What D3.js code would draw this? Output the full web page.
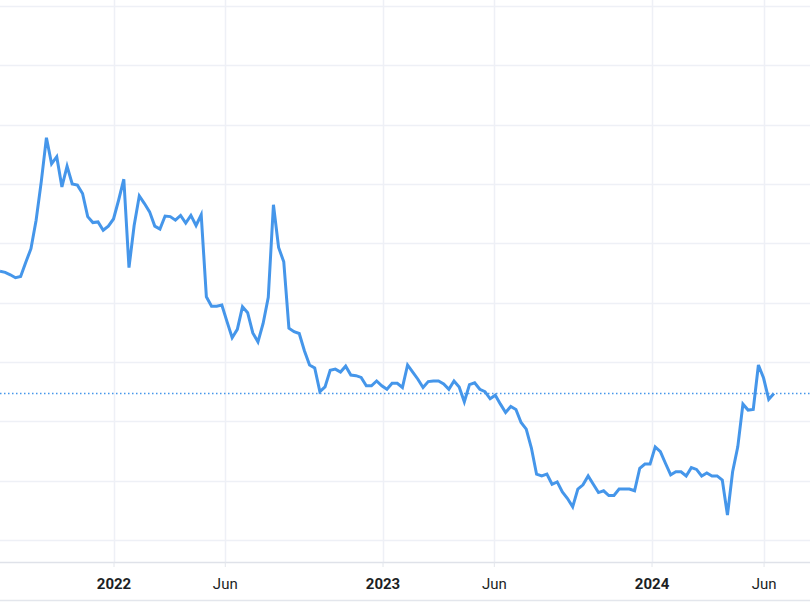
<!DOCTYPE html>
<html>
<head>
<meta charset="utf-8">
<script src="https://cdn.jsdelivr.net/npm/d3@7"></script>
<style>
  html, body { margin: 0; padding: 0; background: #fff; }
  svg { display: block; }
</style>
</head>
<body>
<div id="chart"></div>
<script>
// Weekly series, first point on 31 Jul 2021.
const firstWeek = new Date(2021, 6, 31);
const values = [
  65.3, 65.1, 64.7, 64.2, 64.4, 66.8, 69.1, 73.9, 80.4, 87.8,
  83.4, 84.6, 79.5, 83.0, 80.0, 79.8, 78.4, 74.5, 73.5, 73.6,
  72.2, 72.9, 74.1, 77.3, 80.8, 65.9, 73.0, 78.0, 76.7, 75.3,
  72.9, 72.4, 74.6, 74.5, 73.9, 74.7, 73.4, 74.7, 73.0, 74.8,
  61.0, 59.4, 59.4, 59.6, 56.8, 54.1, 55.5, 59.3, 58.3, 54.9,
  53.4, 56.5, 60.9, 76.5, 69.3, 66.9, 55.7, 55.1, 54.8, 51.9,
  49.5, 49.0, 45.0, 45.8, 48.6, 48.8, 48.3, 49.3, 47.8, 47.7,
  47.4, 46.0, 46.0, 46.8, 46.0, 45.4, 46.4, 46.4, 45.7, 49.5,
  48.3, 47.1, 45.7, 46.7, 46.8, 46.8, 46.3, 45.4, 46.8, 45.8,
  43.3, 46.2, 46.5, 45.4, 45.0, 43.8, 44.4, 42.9, 41.5, 42.5,
  42.0, 39.8, 38.7, 35.5, 31.1, 30.8, 31.1, 29.4, 29.8, 28.1,
  27.0, 25.6, 28.6, 29.3, 30.8, 29.4, 28.0, 28.3, 27.5, 27.5,
  28.6, 28.6, 28.6, 28.3, 32.1, 32.8, 32.8, 35.7, 34.9, 32.9,
  31.0, 31.5, 31.5, 30.8, 32.2, 31.9, 30.8, 31.3, 30.8, 30.8,
  30.1, 24.2, 31.5, 35.7, 42.9, 41.9, 42.0, 49.5, 47.3, 43.7,
  44.7
];
const yTicks = [20, 30, 40, 50, 60, 70, 80, 90, 100, 110];
const xTicks = ['2022-01-01', '2022-06-01', '2023-01-01', '2023-06-01', '2024-01-01', '2024-06-01'];
const xTickLabels = ['2022', 'Jun', '2023', 'Jun', '2024', 'Jun'];

const width = 810, height = 607;
const plotBottom = 562;
const lineColor = '#4596ea';

const data = values.map((v, i) => ({ date: d3.timeWeek.offset(firstWeek, i), value: v }));

const svg = d3.select('#chart').append('svg')
    .attr('width', width)
    .attr('height', height);

const x = d3.scaleTime()
    .domain([firstWeek, new Date(2024, 7, 3)])
    .range([0, width]);

const y = d3.scaleLinear()
    .domain([16.3, 111])
    .range([plotBottom, 0]);

const tickDates = xTicks.map(d => d3.timeParse('%Y-%m-%d')(d));

// Horizontal grid
svg.append('g')
    .selectAll('line')
    .data(yTicks)
    .join('line')
    .attr('x1', 0).attr('x2', width)
    .attr('y1', d => Math.round(y(d)) + 0.5)
    .attr('y2', d => Math.round(y(d)) + 0.5)
    .attr('stroke', '#eef0f6')
    .attr('stroke-width', 1.5);

// Vertical grid
svg.append('g')
    .selectAll('line')
    .data(tickDates)
    .join('line')
    .attr('x1', d => Math.round(x(d)) + 0.5)
    .attr('x2', d => Math.round(x(d)) + 0.5)
    .attr('y1', 0).attr('y2', plotBottom)
    .attr('stroke', '#eef0f6')
    .attr('stroke-width', 1.5);

// X axis
const xAxis = svg.append('g')
    .attr('transform', `translate(0,${plotBottom})`)
    .call(d3.axisBottom(x)
        .tickValues(tickDates)
        .tickSize(5)
        .tickPadding(11)
        .tickFormat((d, i) => xTickLabels[i]));

xAxis.select('.domain')
    .attr('d', `M0,0.5H${width}`)
    .attr('stroke', '#dfe2e9')
    .attr('stroke-width', 1.5);
xAxis.selectAll('.tick line').attr('stroke', '#e3e6ec');
xAxis.selectAll('.tick text')
    .attr('fill', '#1c1f24')
    .style('font-family', 'Roboto, sans-serif')
    .style('font-size', '15px')
    .style('font-weight', (d, i) => xTickLabels[i] === 'Jun' ? 400 : 700);

// Bottom border
svg.append('line')
    .attr('x1', 0).attr('x2', width)
    .attr('y1', 600.5).attr('y2', 600.5)
    .attr('stroke', '#e3e6ec')
    .attr('stroke-width', 1.5);

// Last value marker line
const last = data[data.length - 1];
svg.append('line')
    .attr('x1', 0).attr('x2', width)
    .attr('y1', Math.round(y(last.value)) + 0.5)
    .attr('y2', Math.round(y(last.value)) + 0.5)
    .attr('stroke', lineColor)
    .attr('stroke-width', 1.5)
    .attr('stroke-dasharray', '1.5,2.5');

// Series line
const line = d3.line()
    .x(d => x(d.date))
    .y(d => y(d.value));

svg.append('path')
    .datum(data)
    .attr('fill', 'none')
    .attr('stroke', lineColor)
    .attr('stroke-width', 3)
    .attr('stroke-linejoin', 'miter')
    .attr('d', line);
</script>
</body>
</html>
